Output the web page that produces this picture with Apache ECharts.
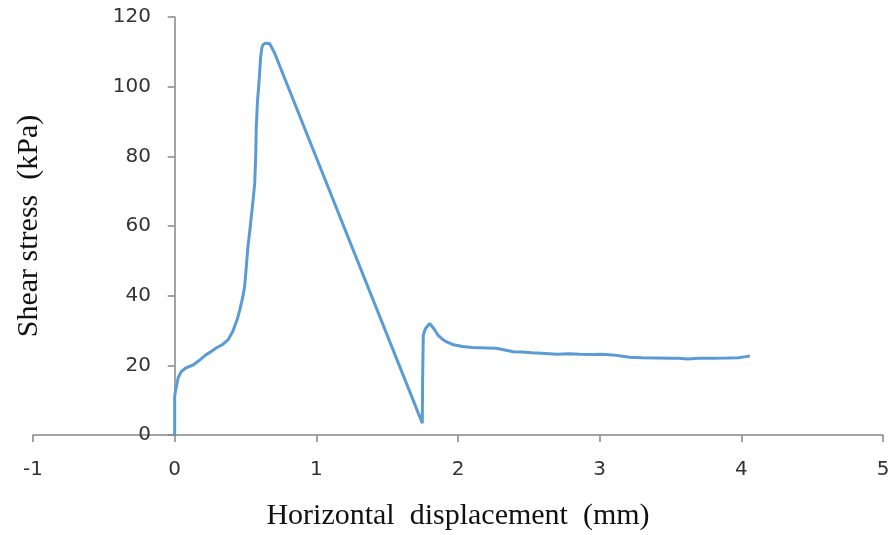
<!DOCTYPE html>
<html><head><meta charset="utf-8">
<script src="https://cdn.jsdelivr.net/npm/echarts@6/dist/echarts.min.js"></script>
<style>html,body{margin:0;padding:0;background:#fff}#c{width:895px;height:535px}</style>
</head><body><div id="c"></div>
<script>
var xTicks = [-1, 0, 1, 2, 3, 4, 5];
var yTicks = [0, 20, 40, 60, 80, 100, 120];
var dispX = [0, 0.0, 0.005, 0.012, 0.025, 0.047, 0.08, 0.13, 0.17, 0.22, 0.26, 0.29, 0.34, 0.376, 0.41, 0.44, 0.46, 0.48, 0.494, 0.505, 0.517, 0.53, 0.541, 0.555, 0.565, 0.572, 0.576, 0.585, 0.595, 0.6, 0.607, 0.615, 0.623, 0.64, 0.655, 0.67, 0.685, 0.706,
  1.748, 1.75, 1.755, 1.77, 1.80, 1.83, 1.858, 1.89, 1.917, 1.96, 2.03, 2.1, 2.2, 2.27, 2.33, 2.39, 2.45, 2.52, 2.62, 2.7, 2.78, 2.86, 2.95, 3.02, 3.09, 3.15, 3.21, 3.3, 3.4, 3.5, 3.56, 3.62, 3.7, 3.8, 3.9, 3.98, 4.03, 4.06];
var stress = [0, 11, 12.5, 13.9, 16.5, 18.2, 19.3, 20.1, 21.3, 23, 24, 24.9, 26, 27.3, 29.7, 33, 35.9, 39.5, 42.6, 48, 54, 58.5, 62.7, 68, 72.3, 80, 88.5, 96, 101, 104, 108.6, 111, 112, 112.5, 112.4, 112.3, 111.3, 109.6,
  3.4, 15, 28.7, 30.5, 32, 30.5, 28.7, 27.5, 26.8, 26, 25.4, 25.1, 25, 24.9, 24.4, 23.9, 23.8, 23.6, 23.4, 23.2, 23.3, 23.2, 23.1, 23.2, 23, 22.7, 22.3, 22.2, 22.1, 22.0, 22.0, 21.8, 22.0, 22.0, 22.1, 22.2, 22.5, 22.7];
var yTitle = 'Shear stress  (kPa)';
var xTitle = 'Horizontal  displacement  (mm)';
var pts = dispX.map(function (x, i) { return [x, stress[i]]; });
var chart = echarts.init(document.getElementById('c'));
var axisGray = '#868686';
chart.setOption({
  animation: false,
  grid: { left: 33, right: 12, top: 17, bottom: 100, containLabel: false, outerBoundsMode: 'none' },
  graphic: [{
    type: 'text', x: 29, y: 226, rotation: Math.PI / 2,
    style: { text: yTitle, fontFamily: 'Liberation Serif', fontSize: 30, fill: '#111', align: 'center', verticalAlign: 'middle' }
  }],
  xAxis: {
    type: 'value', min: xTicks[0], max: xTicks[xTicks.length - 1], interval: 1,
    name: xTitle, nameLocation: 'middle', nameGap: 66,
    nameTextStyle: { fontFamily: 'Liberation Serif', fontSize: 30, color: '#111' },
    axisLine: { lineStyle: { color: axisGray, width: 1.5 } },
    axisTick: { length: 7, lineStyle: { color: axisGray, width: 1.5 } },
    axisLabel: { margin: 25, fontFamily: 'DejaVu Sans', fontSize: 20, color: '#333' },
    splitLine: { show: false }
  },
  yAxis: {
    type: 'value', min: yTicks[0], max: yTicks[yTicks.length - 1], interval: 20,
    axisLine: { onZero: true, lineStyle: { color: axisGray, width: 1.5 } },
    axisTick: { show: true, length: 7, lineStyle: { color: axisGray, width: 1.5 } },
    axisLabel: { margin: -118, fontFamily: 'DejaVu Sans', fontSize: 20, color: '#333' },
    splitLine: { show: false }
  },
  series: [{
    type: 'line', data: pts, showSymbol: false, symbol: 'none',
    lineStyle: { color: '#5B9BD5', width: 3 }
  }]
});
</script></body></html>
